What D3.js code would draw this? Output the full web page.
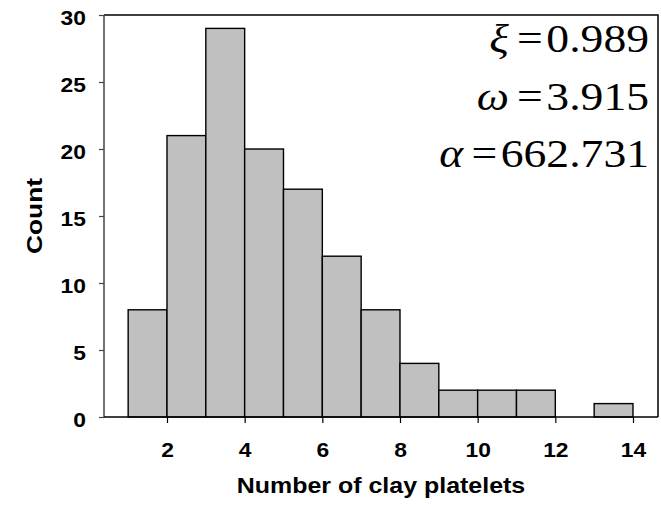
<!DOCTYPE html>
<html>
<head>
<meta charset="utf-8">
<script src="https://cdn.jsdelivr.net/npm/d3@7"></script>
<style>
  html, body { margin: 0; padding: 0; background: #fff; }
  svg { display: block; }
</style>
</head>
<body>
<svg id="chart" width="661" height="505"></svg>
<script>
// Histogram of platelet counts: bins [start, end) with their counts
const binStarts = [1, 2, 3, 4, 5, 6, 7, 8, 9, 10, 11, 12, 13];
const binEnds   = [2, 3, 4, 5, 6, 7, 8, 9, 10, 11, 12, 13, 14];
const counts    = [8, 21, 29, 20, 17, 12, 8, 4, 2, 2, 2, 0, 1];

const xTicks = [2, 4, 6, 8, 10, 12, 14];
const yTicks = [0, 5, 10, 15, 20, 25, 30];
const xLimits = [0.378, 14.644];
const yLimits = [0, 30];

// Fitted parameters shown in the corner
const paramSymbols = ["\u03BE", "\u03C9", "\u03B1"];
const paramValues  = ["0.989", "3.915", "662.731"];

const svg = d3.select("#chart");
const plotL = 104, plotR = 658, plotT = 15, plotB = 417;
const sans = "Arial, 'Liberation Sans', sans-serif";
const serif = "'Times New Roman', 'Liberation Serif', serif";
const wide = 1.17; // horizontal stretch of all lettering

const x = d3.scaleLinear().domain(xLimits).range([plotL, plotR]);
const y = d3.scaleLinear().domain(yLimits).range([plotB, plotT]);

const bins = binStarts.map((s, i) => ({ x0: s, x1: binEnds[i], n: counts[i] }));

// bars
svg.append("g")
  .selectAll("rect")
  .data(bins.filter(d => d.n > 0))
  .join("rect")
  .attr("x", d => x(d.x0))
  .attr("y", d => y(d.n))
  .attr("width", d => x(d.x1) - x(d.x0))
  .attr("height", d => y(0) - y(d.n))
  .attr("fill", "#c0c0c0")
  .attr("stroke", "#000")
  .attr("stroke-width", 1.4);

// frame: top and right edges
svg.append("path")
  .attr("d", `M${plotL},${plotT}H${plotR}V${plotB}`)
  .attr("fill", "none")
  .attr("stroke", "#000")
  .attr("stroke-width", 1.5);

// y axis
const yAxis = d3.axisLeft(y).tickValues(yTicks).tickSize(5).tickPadding(12);
const gy = svg.append("g").attr("transform", `translate(${plotL},0)`).call(yAxis);
gy.select(".domain").attr("d", `M0,${plotT}V${plotB}`).attr("stroke", "#444").attr("stroke-width", 1.5);
gy.selectAll(".tick line").attr("stroke", "#444").attr("stroke-width", 1.2);
gy.selectAll(".tick text")
  .attr("x", 0)
  .attr("transform", `translate(-18,0) scale(${wide},1)`)
  .attr("font-family", sans)
  .attr("font-weight", "bold")
  .attr("font-size", 19.5)
  .attr("fill", "#000")
  .attr("dy", "0.47em");

// x axis
const xAxis = d3.axisBottom(x).tickValues(xTicks).tickSize(6).tickPadding(20);
const gx = svg.append("g").attr("transform", `translate(0,${plotB})`).call(xAxis);
gx.select(".domain").attr("d", `M${plotL},0H${plotR}`).attr("stroke", "#000").attr("stroke-width", 1.5);
gx.selectAll(".tick line").attr("stroke", "#000").attr("stroke-width", 1.2);
gx.selectAll(".tick text")
  .attr("transform", `scale(${wide},1)`)
  .attr("font-family", sans)
  .attr("font-weight", "bold")
  .attr("font-size", 19.5)
  .attr("fill", "#000");

// axis titles
svg.append("text")
  .attr("transform", `translate(381,493) scale(1.11,1)`)
  .attr("text-anchor", "middle")
  .attr("font-family", sans)
  .attr("font-weight", "bold")
  .attr("font-size", 22.5)
  .text("Number of clay platelets");

svg.append("text")
  .attr("transform", `translate(42,${(plotT + plotB) / 2}) rotate(-90) scale(${wide},1)`)
  .attr("text-anchor", "middle")
  .attr("font-family", sans)
  .attr("font-weight", "bold")
  .attr("font-size", 22.5)
  .text("Count");

// parameter annotations: italic symbol, equals sign, right-aligned value
const rowBase = [52, 109.5, 167];
paramSymbols.forEach((sym, i) => {
  const row = svg.append("g")
    .attr("transform", `translate(649,${rowBase[i]}) scale(${wide},1)`)
    .attr("font-family", serif)
    .attr("font-size", 39)
    .attr("text-anchor", "end");
  const val = row.append("text").attr("x", 0).text(paramValues[i]);
  const valW = val.node().getComputedTextLength();
  const eqRight = -valW - 3;
  const eq = row.append("text").attr("x", eqRight).text("=");
  const eqW = eq.node().getComputedTextLength();
  row.append("text")
    .attr("x", eqRight - eqW - 7)
    .attr("font-style", "italic")
    .text(sym);
});
</script>
</body>
</html>
